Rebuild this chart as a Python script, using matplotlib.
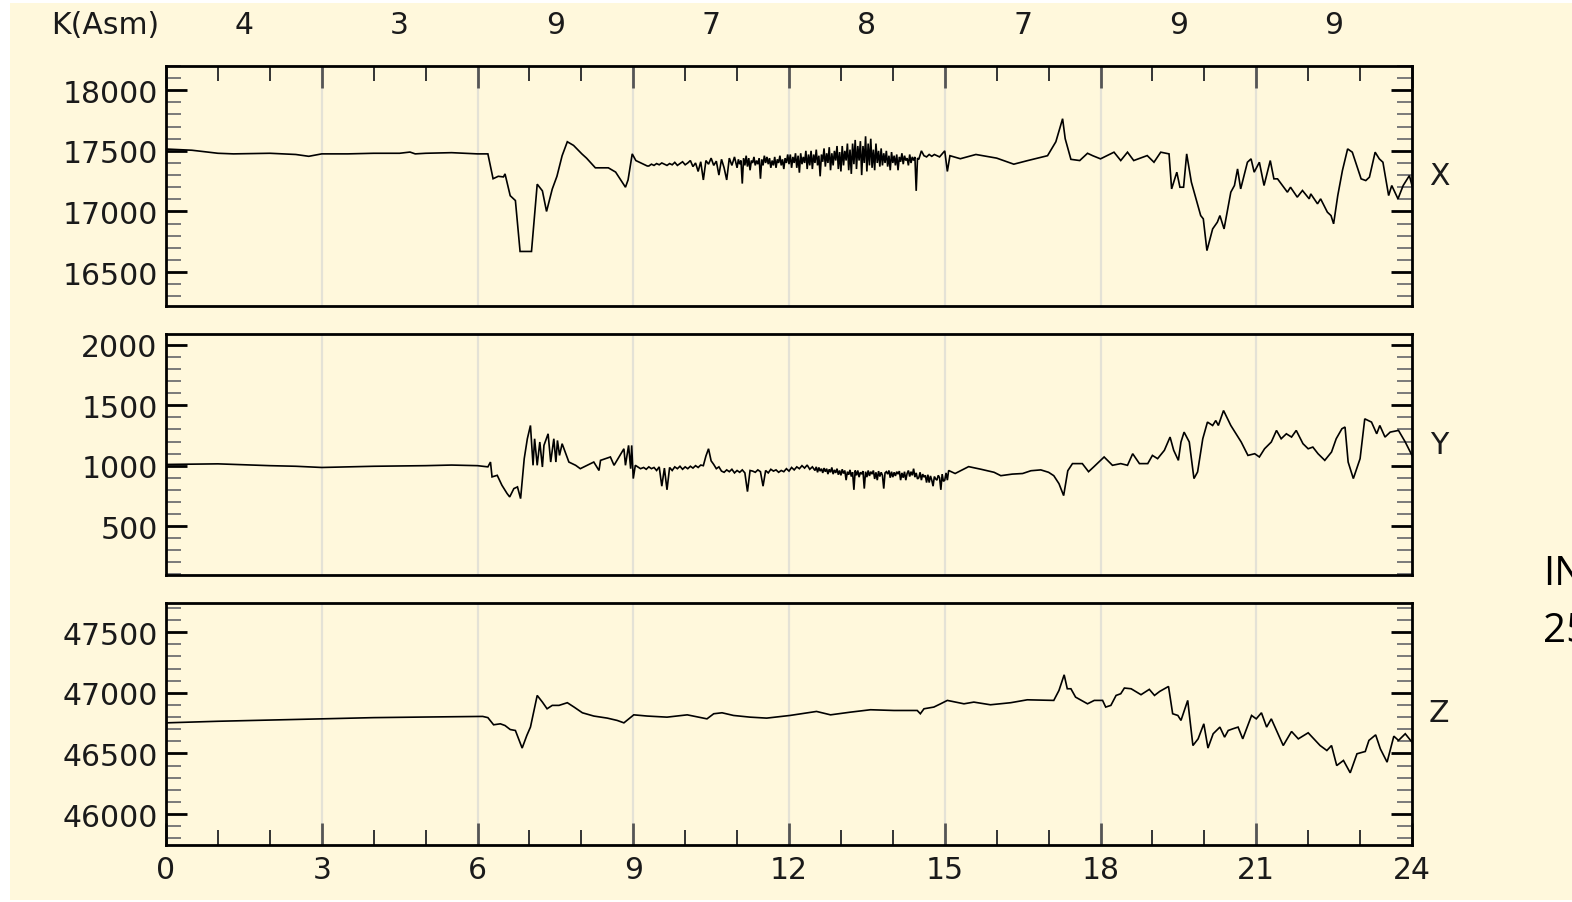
import numpy as np
import matplotlib
matplotlib.use("Agg")
import matplotlib.pyplot as plt
from matplotlib.patches import Rectangle
from matplotlib.ticker import MultipleLocator

# ---------------- data ----------------
k_index = [4, 3, 9, 7, 8, 7, 9, 9]
hour_ticks = [0, 3, 6, 9, 12, 15, 18, 21, 24]
component_names = ["X", "Y", "Z"]

# X component (nT)
x_hours_a = [0.0, 0.5, 1.0, 1.3, 2.0, 2.5, 2.75, 3.0, 3.5, 4.0, 4.5, 4.7, 4.8, 5.0, 5.5, 6.0, 6.2, 6.3,
             6.4, 6.5, 6.53, 6.63, 6.73, 6.82, 7.04, 7.15, 7.25, 7.33, 7.44, 7.53, 7.63, 7.73, 7.85,
             8.01, 8.1, 8.27, 8.52, 8.66, 8.85, 8.9, 8.98, 9.05, 9.15, 9.27]
x_vals_a = [17515, 17505, 17480, 17475, 17480, 17470, 17455, 17475, 17475, 17480, 17480, 17490, 17475,
            17480, 17485, 17475, 17475, 17270, 17290, 17285, 17310, 17130, 17090, 16670, 16670, 17225,
            17170, 17000, 17185, 17290, 17460, 17575, 17545, 17475, 17440, 17360, 17360, 17325, 17200,
            17260, 17475, 17420, 17400, 17375]
x_seg1_start, x_seg1_step = 9.30, 0.05
x_seg1_vals = [17375, 17390, 17380, 17395, 17385, 17400, 17390, 17380, 17395, 17385, 17405, 17380,
               17395, 17410, 17385, 17400, 17420, 17370, 17400, 17330, 17410, 17260, 17420, 17390,
               17440, 17380, 17415, 17300, 17430, 17360, 17260, 17440, 17380, 17450]
x_seg2_start, x_seg2_step = 11.0, 0.025
x_seg2_vals = [17360, 17430, 17390, 17420, 17230, 17440, 17380, 17460,
               17370, 17440, 17340, 17420, 17400, 17450, 17380, 17420,
               17390, 17440, 17270, 17430, 17380, 17460, 17400, 17450,
               17390, 17440, 17360, 17420, 17380, 17450, 17360, 17430,
               17400, 17460, 17380, 17430, 17350, 17440, 17400, 17470,
               17390, 17470, 17360, 17450, 17400, 17480, 17360, 17460,
               17320, 17480, 17390, 17450, 17400, 17500, 17350, 17470,
               17380, 17500, 17350, 17470, 17400, 17510, 17380, 17460,
               17290, 17470, 17410, 17520, 17370, 17480, 17400, 17530,
               17340, 17480, 17380, 17500, 17420, 17540, 17350, 17490,
               17330, 17540, 17380, 17500, 17420, 17560, 17340, 17510,
               17310, 17560, 17390, 17590, 17350, 17540, 17420, 17580,
               17300, 17540, 17400, 17620, 17330, 17560, 17380, 17600,
               17360, 17510, 17340, 17560, 17400, 17500, 17370, 17520,
               17380, 17480, 17400, 17500, 17370, 17460, 17340, 17490,
               17400, 17460, 17380, 17470, 17340, 17450, 17410, 17480,
               17390, 17460, 17420, 17440, 17380, 17470, 17400, 17450,
               17420, 17450, 17170, 17440]
x_seg3_start, x_seg3_step = 14.5, 0.05
x_seg3_vals = [17430, 17500, 17460, 17450, 17470, 17455, 17470, 17460, 17450]
x_hours_b = [15.0, 15.05, 15.1, 15.3, 15.6, 16.0, 16.33, 16.6, 16.98, 17.14, 17.27, 17.32, 17.43, 17.6,
             17.75, 17.85, 18.0, 18.26, 18.39, 18.52, 18.64, 18.9, 19.03, 19.16, 19.32, 19.37, 19.47,
             19.53, 19.6, 19.66, 19.75, 19.93, 19.98, 20.05, 20.16, 20.25, 20.3, 20.38, 20.51, 20.58,
             20.64, 20.7, 20.83, 20.9, 20.96, 21.06, 21.15, 21.27, 21.34, 21.41, 21.6, 21.66, 21.79,
             21.89, 22.02, 22.05, 22.18, 22.24, 22.37, 22.44, 22.49, 22.57, 22.66, 22.76, 22.85, 23.02,
             23.11, 23.18, 23.29, 23.37, 23.44, 23.55, 23.61, 23.73, 23.83, 23.95, 24.0]
x_vals_b = [17500, 17330, 17460, 17435, 17470, 17440, 17390, 17420, 17460, 17575, 17765, 17600, 17430,
            17420, 17480, 17460, 17434, 17489, 17420, 17489, 17420, 17461, 17406, 17489, 17475, 17186,
            17324, 17200, 17200, 17475, 17242, 16966, 16939, 16677, 16856, 16911, 16966, 16856, 17159,
            17214, 17351, 17186, 17406, 17434, 17324, 17406, 17214, 17420, 17269, 17269, 17159, 17200,
            17118, 17173, 17104, 17145, 17063, 17104, 16994, 16966, 16898, 17131, 17338, 17516, 17489,
            17269, 17255, 17283, 17489, 17434, 17406, 17131, 17214, 17104, 17214, 17296, 17214]

# Y component (nT)
y_hours_a = [0.0, 1.0, 2.0, 2.5, 3.0, 3.5, 4.0, 5.0, 5.5, 6.0, 6.2, 6.25, 6.28, 6.38, 6.47, 6.57, 6.62,
             6.7, 6.77, 6.83, 6.9, 6.96, 7.02, 7.07, 7.1, 7.15, 7.2, 7.25, 7.28, 7.36, 7.41, 7.47, 7.51,
             7.54, 7.58, 7.63, 7.76, 7.89, 7.98, 8.11, 8.24, 8.34, 8.37, 8.56, 8.63, 8.82, 8.85, 8.91,
             8.95, 8.97, 9.0, 9.04, 9.14]
y_vals_a = [1010, 1015, 1000, 995, 985, 990, 995, 1000, 1005, 1000, 990, 1030, 907, 920, 838, 769, 741,
            810, 824, 727, 1058, 1223, 1333, 1003, 1223, 1003, 1196, 989, 1168, 1264, 1030, 1223, 1030,
            1209, 1085, 1182, 1030, 1003, 975, 1003, 1030, 960, 1044, 1072, 1003, 1140, 1003, 1168, 975,
            1168, 893, 1003, 975]
y_seg1_start, y_seg1_step = 9.20, 0.05
y_seg1_vals = [985, 970, 990, 975, 985, 960, 990, 830, 980, 800,
               985, 960, 990, 975, 995, 970, 990, 975, 995, 980,
               1000, 985, 1005, 1000, 1080, 1140, 1040, 1010, 975, 990,
               955, 945, 965, 950, 970, 940, 960, 945, 965, 940,
               785, 960, 955, 945, 965, 950, 830, 960, 940, 970,
               955, 965, 945, 960, 950, 975, 955, 985, 965, 990,
               975, 1000, 980, 1005, 970, 990]
y_seg2_start, y_seg2_step = 12.5, 0.025
y_seg2_vals = [960, 990, 945, 985, 955, 975, 940, 980,
               950, 975, 930, 970, 945, 985, 930, 965,
               940, 975, 925, 960, 920, 970, 935, 960,
               880, 950, 925, 965, 910, 945, 800, 960,
               920, 960, 905, 945, 930, 955, 810, 950,
               905, 960, 915, 950, 930, 960, 890, 945,
               880, 955, 910, 945, 920, 810, 940, 950,
               930, 960, 900, 950, 905, 945, 915, 950,
               930, 955, 880, 940, 900, 950, 880, 935,
               960, 910, 950, 920, 975, 905, 940, 890,
               900, 945, 880, 930, 905, 920, 860, 925,
               860, 915, 880, 830, 910, 890, 880, 920,
               900, 800, 930, 870, 880, 940, 880, 960]
y_hours_b = [15.2, 15.46, 15.7, 15.95, 16.08, 16.3, 16.5, 16.66, 16.85, 17.0, 17.1, 17.2, 17.29, 17.37,
             17.46, 17.65, 17.77, 17.87, 18.07, 18.23, 18.39, 18.52, 18.62, 18.75, 18.91, 19.0, 19.1,
             19.23, 19.34, 19.41, 19.5, 19.55, 19.61, 19.71, 19.8, 19.87, 19.97, 20.06, 20.16, 20.22,
             20.27, 20.37, 20.51, 20.61, 20.71, 20.84, 20.97, 21.06, 21.16, 21.29, 21.39, 21.48, 21.58,
             21.68, 21.77, 21.9, 22.0, 22.09, 22.19, 22.32, 22.45, 22.54, 22.65, 22.71, 22.77, 22.87,
             23.0, 23.09, 23.22, 23.32, 23.38, 23.48, 23.58, 23.74, 23.87, 24.0]
y_vals_b = [935, 992, 970, 945, 917, 930, 935, 958, 965, 945, 917, 851, 752, 958, 1017, 1017, 950, 990,
            1072, 1003, 1017, 1003, 1099, 1017, 1017, 1085, 1058, 1127, 1237, 1127, 1044, 1196, 1278,
            1196, 893, 948, 1223, 1361, 1333, 1374, 1333, 1457, 1333, 1264, 1196, 1085, 1099, 1072,
            1140, 1196, 1292, 1223, 1264, 1237, 1292, 1182, 1140, 1154, 1099, 1044, 1113, 1223, 1306,
            1320, 1030, 893, 1058, 1388, 1361, 1264, 1333, 1237, 1278, 1292, 1196, 1085]

# Z component (nT)
z_hours = [0.0, 1.0, 2.0, 3.0, 4.0, 5.0, 6.1, 6.2, 6.31, 6.44, 6.53, 6.63, 6.73, 6.86, 6.95, 7.02, 7.15,
           7.25, 7.34, 7.44, 7.57, 7.73, 7.86, 8.02, 8.24, 8.5, 8.69, 8.82, 9.01, 9.27, 9.65, 10.04,
           10.42, 10.55, 10.71, 10.93, 11.25, 11.57, 12.02, 12.53, 12.8, 13.18, 13.57, 14.02, 14.47,
           14.53, 14.6, 14.79, 14.92, 15.05, 15.37, 15.56, 15.88, 16.27, 16.59, 17.1, 17.2, 17.3, 17.36,
           17.43, 17.52, 17.75, 17.88, 18.04, 18.1, 18.2, 18.3, 18.39, 18.46, 18.59, 18.78, 18.94,
           19.04, 19.14, 19.31, 19.39, 19.49, 19.55, 19.68, 19.78, 19.88, 19.99, 20.07, 20.17, 20.3,
           20.39, 20.46, 20.55, 20.65, 20.74, 20.91, 21.0, 21.1, 21.2, 21.29, 21.52, 21.68, 21.81, 22.0,
           22.23, 22.36, 22.45, 22.55, 22.68, 22.81, 22.94, 23.1, 23.17, 23.3, 23.39, 23.52, 23.65,
           23.74, 23.87, 24.0]
z_vals = [46752, 46765, 46775, 46785, 46795, 46800, 46805, 46795, 46736, 46744, 46730, 46697, 46689,
          46544, 46648, 46717, 46978, 46923, 46868, 46896, 46896, 46918, 46882, 46835, 46808, 46791,
          46772, 46752, 46818, 46808, 46799, 46818, 46785, 46827, 46835, 46813, 46799, 46791, 46813,
          46846, 46818, 46840, 46860, 46854, 46854, 46827, 46868, 46882, 46909, 46937, 46909, 46923,
          46901, 46918, 46942, 46937, 47019, 47148, 47033, 47033, 46964, 46909, 46937, 46937, 46882,
          46896, 46978, 46992, 47039, 47033, 46984, 47028, 46978, 47011, 47052, 46827, 46813, 46772,
          46937, 46565, 46620, 46744, 46544, 46662, 46717, 46634, 46689, 46703, 46717, 46620, 46813,
          46785, 46835, 46717, 46785, 46565, 46681, 46620, 46670, 46565, 46524, 46565, 46400, 46442,
          46340, 46497, 46516, 46607, 46653, 46538, 46428, 46642, 46607, 46662, 46593]

y_limits = [(16220, 18200), (94, 2091), (45745, 47740)]


# ---------------- assemble ----------------
def pair(h, v):
    n = min(len(h), len(v))
    return list(h[:n]), list(v[:n])


def seg(start, step, vals):
    return [start + step * i for i in range(len(vals))], list(vals)


def series(parts):
    hh, vv = [], []
    for h, v in parts:
        hh += h
        vv += v
    return np.array(hh), np.array(vv)


sx = series([pair(x_hours_a, x_vals_a),
             seg(x_seg1_start, x_seg1_step, x_seg1_vals),
             seg(x_seg2_start, x_seg2_step, x_seg2_vals),
             seg(x_seg3_start, x_seg3_step, x_seg3_vals),
             pair(x_hours_b, x_vals_b)])
sy = series([pair(y_hours_a, y_vals_a),
             seg(y_seg1_start, y_seg1_step, y_seg1_vals),
             seg(y_seg2_start, y_seg2_step, y_seg2_vals),
             pair(y_hours_b, y_vals_b)])
sz = series([pair(z_hours, z_vals)])
all_series = [sx, sy, sz]

# ---------------- figure ----------------
W, H = 1572, 903
cream = "#FFF8DC"
fig = plt.figure(figsize=(W / 100, H / 100), dpi=100, facecolor="white")
fig.patches.append(Rectangle((10 / W, 2 / H), 1 - 10 / W, (899 - 2) / H, transform=fig.transFigure,
                             facecolor=cream, edgecolor="none", zorder=-10))

left_px, right_px = 166, 1412
panels_px = [(67, 307), (335, 576), (604, 846)]
label_y_px = [177, 445, 713]
font = "DejaVu Sans"
fs = 21.5
txt_color = "#1a1a1a"

axes = []
for i, (top, bot) in enumerate(panels_px):
    ax = fig.add_axes([left_px / W, 1 - bot / H, (right_px - left_px) / W, (bot - top) / H])
    ax.set_facecolor(cream)
    hrs, vals = all_series[i]
    ax.plot(hrs, vals, color="black", lw=1.2, zorder=3, solid_joinstyle="miter")
    ax.set_xlim(0, 24)
    ax.set_ylim(*y_limits[i])
    ax.set_xticks(hour_ticks)
    ax.xaxis.set_minor_locator(MultipleLocator(1))
    ax.yaxis.set_major_locator(MultipleLocator(500))
    ax.yaxis.set_minor_locator(MultipleLocator(100))
    ax.grid(axis="x", which="major", color="#e4e2d6", lw=1.6, zorder=0)
    ax.set_axisbelow(True)
    for s in ax.spines.values():
        s.set_linewidth(2.0)
        s.set_color("black")
    ax.tick_params(axis="y", which="major", direction="in", length=15, width=2.0, color="black",
                   left=True, right=True, labelsize=fs, pad=6, labelcolor=txt_color)
    ax.tick_params(axis="y", which="minor", direction="in", length=10.5, width=1.4, color="#7a7a7a",
                   left=True, right=True)
    top_on = (i == 0)
    bot_on = (i == 2)
    ax.tick_params(axis="x", which="major", direction="in", length=16, width=2.0, color="#555555",
                   top=top_on, bottom=bot_on, labeltop=False, labelbottom=bot_on, labelsize=fs, pad=7,
                   labelcolor=txt_color)
    ax.tick_params(axis="x", which="minor", direction="in", length=10.5, width=1.4, color="#333333",
                   top=top_on, bottom=bot_on)
    for lab in ax.get_xticklabels() + ax.get_yticklabels():
        lab.set_fontfamily(font)
    ax.text(1.0 + (1439 - right_px) / (right_px - left_px), (bot - label_y_px[i]) / (bot - top),
            component_names[i], transform=ax.transAxes, ha="center", va="center", fontsize=fs,
            family=font, color=txt_color)
    axes.append(ax)

ax0 = axes[0]
ky = 1 + (67 - 25) / (307 - 67)
for j, k in enumerate(k_index):
    ax0.text(hour_ticks[j] + 1.5, ky, str(k), transform=ax0.get_xaxis_transform(), ha="center",
             va="center", fontsize=fs, family=font, color=txt_color, clip_on=False)
fig.text(105 / W, 1 - 25 / H, "K(Asm)", ha="center", va="center", fontsize=fs, family=font,
         color=txt_color)

# partially visible annotation at the right edge (cut off in the original as well)
fig.text(1543 / W, 1 - 575 / H, "INTERMAGNET", ha="left", va="center", fontsize=29,
         family="Open Sans", color="black")
fig.text(1543 / W, 1 - 632 / H, "25", ha="left", va="center", fontsize=29,
         family="Open Sans", color="black")

fig.savefig("out.png", dpi=100, facecolor="white")
